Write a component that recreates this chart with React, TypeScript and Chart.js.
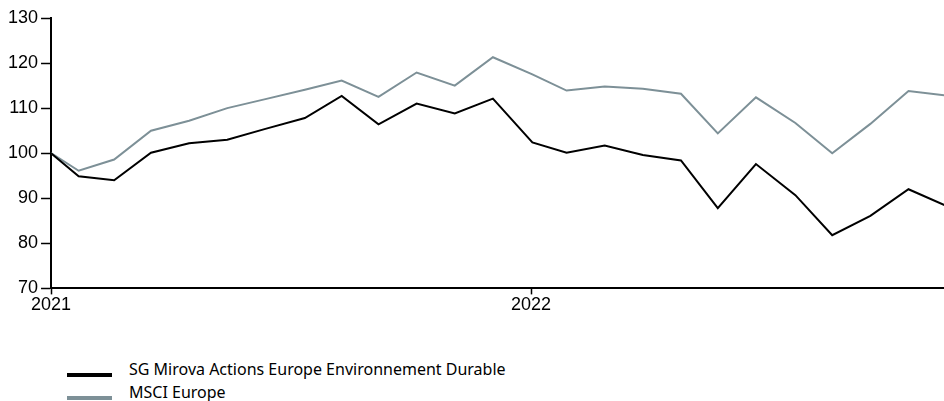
import React, { useEffect, useRef } from "react";
import { Chart, registerables } from "chart.js";

Chart.register(...registerables);

// Days since 1 Jan 2021 of each observation
const dayOffsets = [0, 21, 48, 76, 105, 134, 163, 193, 221, 249, 278, 307, 336, 366, 392, 421, 450, 479, 507, 536, 566, 594, 623, 652, 680];
const fundValues = [100, 94.9, 94.0, 100.1, 102.2, 103.0, 105.4, 107.8, 112.7, 106.4, 111.0, 108.8, 112.1, 102.4, 100.1, 101.7, 99.6, 98.4, 87.8, 97.6, 90.7, 81.8, 86.1, 92.0, 88.4];
const indexValues = [100, 96.1, 98.6, 105.0, 107.2, 110.0, 112.0, 114.1, 116.1, 112.5, 117.9, 115.0, 121.3, 117.5, 113.9, 114.8, 114.3, 113.2, 104.4, 112.4, 106.7, 100.0, 106.5, 113.8, 112.8];
const seriesNames = ["SG Mirova Actions Europe Environnement Durable", "MSCI Europe"];
const seriesColors = ["#000000", "#7d9097"];
const yearTicks = [0, 365];
const yearLabels = ["2021", "2022"];
const yTicks = [70, 80, 90, 100, 110, 120, 130];
const xMax = 679;

export default function App() {
  const canvasRef = useRef<HTMLCanvasElement | null>(null);

  useEffect(() => {
    if (!canvasRef.current) return;
    const tickFont = { family: "'Liberation Sans', Arial, sans-serif", size: 18 };
    const chart = new Chart(canvasRef.current, {
      type: "line",
      data: {
        datasets: [
          {
            label: seriesNames[0],
            data: dayOffsets.map((d, i) => ({ x: d, y: fundValues[i] })),
            borderColor: seriesColors[0],
            borderWidth: 2,
            pointRadius: 0,
            tension: 0,
          },
          {
            label: seriesNames[1],
            data: dayOffsets.map((d, i) => ({ x: d, y: indexValues[i] })),
            borderColor: seriesColors[1],
            borderWidth: 2,
            pointRadius: 0,
            tension: 0,
          },
        ],
      },
      options: {
        animation: false,
        responsive: true,
        maintainAspectRatio: false,
        layout: { padding: { left: 5, top: 18, right: 0, bottom: 0 } },
        plugins: { legend: { display: false }, tooltip: { enabled: false } },
        scales: {
          x: {
            type: "linear",
            min: 0,
            max: xMax,
            afterBuildTicks: (axis: any) => {
              axis.ticks = yearTicks.map((v) => ({ value: v }));
            },
            ticks: {
              font: tickFont,
              color: "#000",
              padding: 0,
              maxRotation: 0,
              autoSkip: false,
              callback: (v: any) => {
                const i = yearTicks.indexOf(Number(v));
                return i >= 0 ? yearLabels[i] : "";
              },
            },
            grid: { drawOnChartArea: false, drawTicks: true, tickLength: 6, tickColor: "#000", tickWidth: 1.5 },
            border: { display: true, color: "#000", width: 2 },
          },
          y: {
            min: 70,
            max: 130,
            afterBuildTicks: (axis: any) => {
              axis.ticks = yTicks.map((v) => ({ value: v }));
            },
            ticks: { font: tickFont, color: "#000", padding: 3 },
            grid: { drawOnChartArea: false, drawTicks: true, tickLength: 10, tickColor: "#000", tickWidth: 1.5 },
            border: { display: true, color: "#000", width: 2 },
          },
        },
      },
    });
    return () => chart.destroy();
  }, []);

  const legendFont = "'Noto Sans', sans-serif";
  return (
    <div style={{ position: "fixed", left: 0, top: 0, width: 944, height: 401, overflow: "hidden", background: "#fff" }}>
      <div style={{ position: "absolute", left: 0, top: 0, width: 944, height: 316 }}>
        <canvas ref={canvasRef} />
      </div>
      {seriesNames.map((name, i) => (
        <div key={name} style={{ position: "absolute", left: 0, top: 357 + i * 23, height: 24, width: 944 }}>
          <div style={{ position: "absolute", left: 67, top: 16, width: 45, height: 4, background: seriesColors[i] }} />
          <div style={{ position: "absolute", left: 129, top: 0, lineHeight: "24px", fontFamily: legendFont, fontSize: 16, color: "#000", whiteSpace: "nowrap" }}>
            {name}
          </div>
        </div>
      ))}
    </div>
  );
}
